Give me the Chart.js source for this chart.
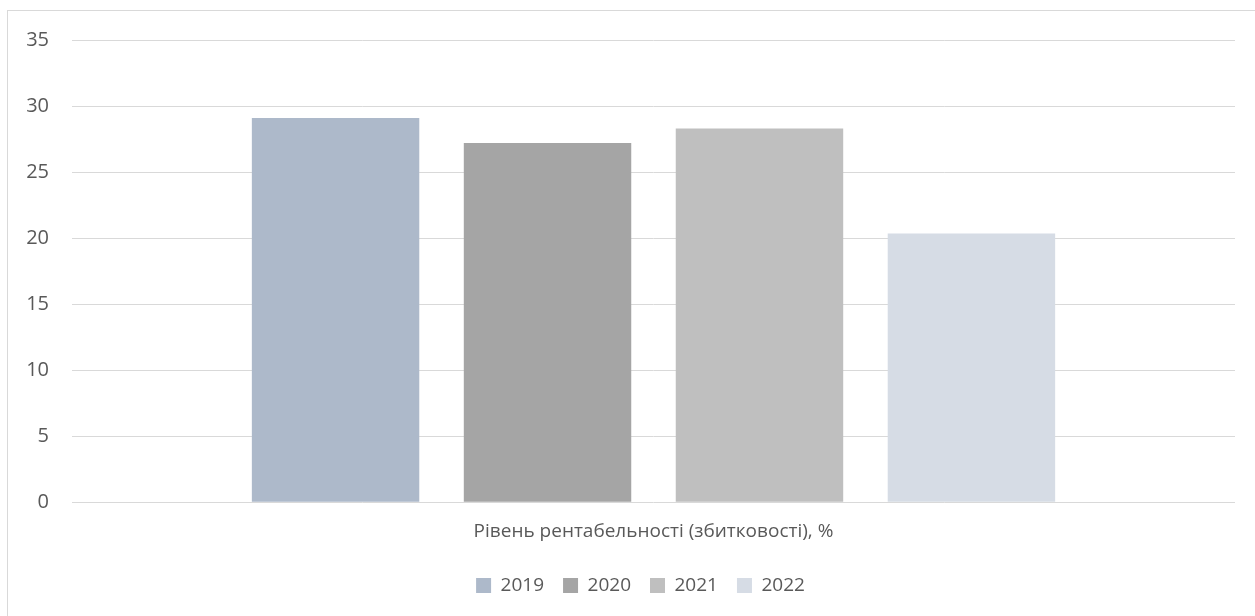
<!DOCTYPE html>
<html>
<head>
<meta charset="utf-8">
<script src="https://cdn.jsdelivr.net/npm/chart.js@4"></script>
<style>
  html, body { margin: 0; padding: 0; background: #fff; }
  #wrap {
    position: absolute; left: 7px; top: 10px;
    width: 1248px; height: 606px;
    border-left: 1px solid #d9d9d9; border-top: 1px solid #d9d9d9;
  }
</style>
</head>
<body>
<div id="wrap"><canvas id="chart"></canvas></div>
<script>
// values
const categories = ['Рівень рентабельності (збитковості), %'];
const years = ['2019', '2020', '2021', '2022'];
const values = [29.1, 27.2, 28.3, 20.35];
const colours = ['#adb9ca', '#a5a5a5', '#bfbfbf', '#d6dce5'];

const textColour = '#595959';
const gridColour = '#d9d9d9';
const font = 'Open Sans';

const datasets = years.map((y, i) => ({
  label: y,
  data: [values[i]],
  backgroundColor: colours[i],
  borderWidth: 0,
  categoryPercentage: 0.729,
  barPercentage: 0.79,
}));

// legend in the original sits a little right of the canvas centre
const legendShift = {
  id: 'legendShift',
  afterLayout(chart) {
    chart.legend.left += 19;
    chart.legend.right += 19;
  }
};

new Chart(document.getElementById('chart'), {
  type: 'bar',
  data: { labels: categories, datasets: datasets },
  plugins: [legendShift],
  options: {
    responsive: true,
    maintainAspectRatio: false,
    animation: false,
    layout: { padding: { left: 0, right: 21, top: 29, bottom: 12 } },
    plugins: {
      tooltip: { enabled: false },
      legend: {
        position: 'bottom',
        labels: {
          color: textColour,
          font: { family: font, size: 19 },
          boxWidth: 15,
          boxHeight: 15,
          padding: 19,
        }
      }
    },
    scales: {
      x: {
        afterFit: s => { s.height += 4; },
        grid: { display: false },
        border: { display: false },
        ticks: { color: textColour, font: { family: font, size: 19 }, padding: 10 }
      },
      y: {
        min: 0,
        max: 35,
        afterFit: s => { s.width = 64; },
        grid: { color: gridColour, lineWidth: 1, tickLength: 23, tickColor: 'rgba(0,0,0,0)' },
        border: { display: false },
        ticks: { stepSize: 5, color: textColour, font: { family: font, size: 20 }, padding: 0 }
      }
    }
  }
});
</script>
</body>
</html>
